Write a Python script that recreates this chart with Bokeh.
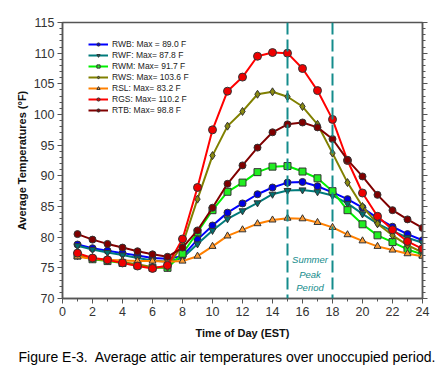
from bokeh.plotting import figure
from bokeh.models import (Legend, LegendItem, Span, Label, LinearAxis, Range1d,
                          SingleIntervalTicker, Title)
from bokeh.embed import file_html
from bokeh.resources import INLINE

hours = list(range(1, 25))
RWB = [78.8, 78.2, 77.8, 77.4, 77.0, 76.6, 76.5, 76.9, 79.6, 81.9, 84.0, 85.5,
       87.0, 88.1, 88.9, 89.0, 88.3, 87.3, 86.2, 84.8, 83.1, 81.7, 80.5, 79.5]
RWF = [78.6, 78.0, 77.5, 77.1, 76.6, 76.2, 76.0, 76.6, 78.9, 81.1, 83.0, 84.3,
       85.6, 87.0, 87.6, 87.7, 87.4, 86.8, 85.5, 83.8, 82.2, 81.0, 79.9, 79.1]
RWM = [77.0, 76.4, 76.1, 75.8, 75.4, 75.0, 75.0, 77.3, 80.8, 84.4, 87.4, 88.9,
       90.6, 91.5, 91.6, 90.7, 89.6, 87.5, 84.4, 82.1, 80.3, 79.2, 78.0, 77.2]
RWS = [77.0, 76.5, 76.2, 75.9, 75.6, 75.1, 75.1, 78.8, 86.2, 93.3, 98.1, 100.5,
       103.3, 103.7, 102.9, 101.3, 98.4, 93.7, 88.9, 85.0, 82.2, 80.3, 78.7, 77.5]
RSL = [76.8, 76.5, 76.3, 76.2, 76.1, 76.1, 76.0, 76.1, 76.9, 78.5, 80.2, 81.2,
       82.2, 82.8, 83.1, 83.0, 82.4, 81.6, 80.4, 79.4, 78.5, 77.9, 77.3, 76.9]
RGS = [77.4, 76.6, 76.3, 75.8, 75.3, 74.9, 75.4, 79.7, 88.1, 97.5, 103.8, 106.1,
       109.5, 110.1, 110.0, 107.5, 103.9, 99.2, 92.5, 87.2, 83.4, 81.2, 79.3, 78.1]
RTB = [80.5, 79.6, 78.9, 78.3, 77.7, 77.2, 76.8, 78.3, 81.1, 84.8, 88.7, 91.7,
       94.6, 97.1, 98.4, 98.7, 97.9, 96.0, 92.6, 89.9, 86.9, 84.4, 82.9, 81.5]

series_names = ["RWB", "RWF", "RWM", "RWS", "RSL", "RGS", "RTB"]
legend_labels = ["RWB: Max = 89.0 F", "RWF: Max= 87.8 F", "RWM: Max= 91.7 F",
                 "RWS: Max= 103.6 F", "RSL: Max= 83.2 F", "RGS: Max= 110.2 F",
                 "RTB: Max= 98.8 F"]
series_values = [RWB, RWF, RWM, RWS, RSL, RGS, RTB]
peak_start, peak_end = 15, 18

line_colors = ["#0000ff", "#007b7b", "#00f000", "#808000", "#ff8000", "#ff0000", "#800000"]
fill_colors = ["#0000e0", "#007070", "#22ee22", "#8a8a10", "#ff9a30", "#ee0000", "#800000"]
markers = ["circle", "inverted_triangle", "square", "diamond", "triangle", "circle", "circle"]
sizes = [7, 7, 7, 8, 7, 8, 7]

FONT = "Liberation Sans"

p = figure(frame_width=360, frame_height=276, output_backend="svg",
           toolbar_location=None, x_range=Range1d(0, 24), y_range=Range1d(70, 115),
           min_border_left=62, min_border_top=22, min_border_right=16,
           min_border_bottom=40)
p.background_fill_color = "white"
p.border_fill_color = "white"
p.outline_line_color = "#555555"
p.outline_line_width = 1.5
p.xgrid.visible = False
p.ygrid.visible = False

# axes
for ax in (p.xaxis[0], p.yaxis[0]):
    ax.axis_line_color = "#555555"
    ax.axis_line_width = 1.5
    ax.major_tick_line_color = "#555555"
    ax.minor_tick_line_color = "#555555"
    ax.major_tick_out = 5
    ax.major_tick_in = 0
    ax.minor_tick_out = 3
    ax.minor_tick_in = 0
    ax.major_label_text_font = FONT
    ax.major_label_text_font_size = "12.5px"
    ax.major_label_text_color = "#333333"
    ax.axis_label_text_font = FONT
    ax.axis_label_text_font_size = "11px"
    ax.axis_label_text_font_style = "bold"
    ax.axis_label_text_color = "#111111"

p.xaxis[0].ticker = SingleIntervalTicker(interval=2, num_minor_ticks=2)
p.yaxis[0].ticker = SingleIntervalTicker(interval=5, num_minor_ticks=5)
p.xaxis[0].axis_label = "Time of Day (EST)"
p.yaxis[0].axis_label = "Average Temperatures (°F)"
p.xaxis[0].major_label_standoff = 3
p.yaxis[0].major_label_standoff = 3
p.xaxis[0].axis_label_standoff = 8
p.yaxis[0].axis_label_standoff = 3

right_ax = LinearAxis(ticker=SingleIntervalTicker(interval=5, num_minor_ticks=5))
right_ax.major_label_text_font_size = "0px"
right_ax.major_label_text_color = None
right_ax.axis_line_color = "#555555"
right_ax.axis_line_width = 1.5
right_ax.major_tick_line_color = "#555555"
right_ax.minor_tick_line_color = "#555555"
right_ax.major_tick_out = 5
right_ax.minor_tick_out = 3
right_ax.major_tick_in = 0
right_ax.minor_tick_in = 0
p.add_layout(right_ax, "right")

# summer peak period
for loc in (peak_start, peak_end):
    p.add_layout(Span(location=loc, dimension="height", line_color="#148c8c",
                      line_width=2, line_dash="12 5"))
for txt, yy in zip(["Summer", "Peak", "Period"], [76.3, 73.9, 71.8]):
    p.add_layout(Label(x=(peak_start + peak_end) / 2, y=yy, text=txt,
                       text_font=FONT, text_font_size="9.5px",
                       text_font_style="italic", text_color="#148c8c",
                       text_align="center", text_baseline="middle"))

items = []
for name, lab, vals, lc, fc, mk, sz in zip(series_names, legend_labels, series_values,
                                           line_colors, fill_colors, markers, sizes):
    l = p.line(hours, vals, line_color=lc, line_width=2)
    s = p.scatter(hours, vals, marker=mk, size=sz, fill_color=fc,
                  line_color="#333333", line_width=1)
    items.append(LegendItem(label=lab, renderers=[l, s]))

legend = Legend(items=items, location=(26, 183))
legend.border_line_color = None
legend.background_fill_alpha = 0
legend.padding = 0
legend.margin = 0
legend.spacing = 1
legend.label_height = 8
legend.glyph_height = 8
legend.glyph_width = 20
legend.label_standoff = 4
legend.label_text_font = FONT
legend.label_text_font_size = "8.5px"
legend.label_text_color = "#222222"
p.add_layout(legend)

cap = Title(text="Figure E-3.\u00a0 Average attic air temperatures over unoccupied period.",
            align="left", text_font=FONT, text_font_size="14px",
            text_font_style="normal", text_color="#000000", offset=-44)
p.add_layout(cap, "below")

open("out.html", "w").write(file_html(p, INLINE))
